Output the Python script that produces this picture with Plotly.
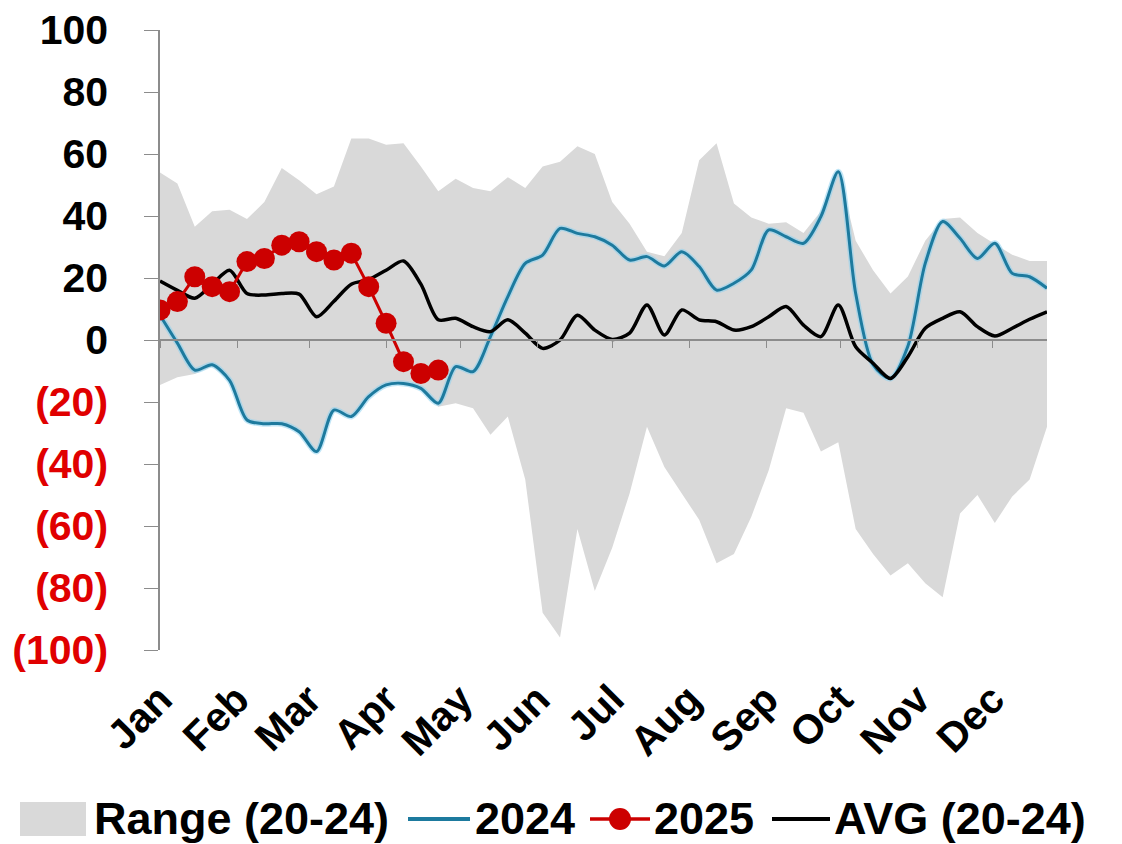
import pandas as pd
import plotly.graph_objects as go

# ---- data (weekly, 52 weeks) ----
weeks = pd.date_range("2024-01-01", periods=52, freq="7D")

range_high = [54, 50.5, 36.5, 41.5, 42, 39, 44.5, 55.5, 51.5, 47,
              49.5, 65, 65, 63, 63.5, 56, 48, 52, 49, 48,
              52.5, 49, 56, 57.5, 62.5, 60, 44.5, 37.5, 28.5, 27,
              34.5, 58, 63.5, 44, 39.5, 37.5, 38, 34.5, 41.5, 55,
              32, 22.5, 15, 20.5, 32, 39, 39.5, 34.5, 31, 27.5,
              25.5, 25.5]

range_low = [-14.5, -12, -11, -8.5, -13, -25.8, -27, -27, -29.6, -36,
             -22.6, -24.7, -18.3, -14.5, -14, -15.6, -21.5, -20.4, -22, -30.6,
             -24.7, -45, -88, -96, -61, -81, -67, -49.5, -28, -41,
             -49.5, -58, -72, -69, -57, -42, -22, -23.5, -36, -33,
             -61, -69, -76, -72, -78.5, -83, -56, -50, -59, -50.5,
             -45, -28]

y2024 = [8, -1, -9.7, -8, -13, -25.8, -27, -27, -29.6, -36,
         -22.6, -24.7, -18.3, -14.5, -14, -15.6, -20.4, -8.6, -10.2, 1.1,
         14, 24.7, 27.4, 36, 34.4, 33.3, 30.6, 25.8, 26.9, 23.9,
         28.5, 23.7, 16.1, 18.3, 22.6, 35.5, 33.3, 31.2, 39.8, 54.3,
         15, -8, -12.4, -2, 24.7, 38.2, 32.8, 26.3, 31.2, 21.5,
         20.4, 16.7]

y2025 = [9.7, 12.4, 20.4, 17.2, 15.6, 25.3, 26.3, 30.6, 31.7, 28.5,
         25.8, 28, 17.2, 5.4, -7, -10.8, -9.7]

avg = [19, 16, 13.5, 18, 22.5, 15, 14.5, 15, 14.8, 7.5,
       12.5, 18, 19.5, 22.5, 25.5, 18, 6.5, 7, 4.3, 2.7,
       6.5, 2.2, -2.7, 0, 8, 3.2, 0.2, 2.2, 11.3, 1.6,
       9.7, 6.5, 5.9, 3.2, 4.3, 7.5, 10.8, 4.8, 1.1, 11.3,
       -2.2, -7.5, -12.4, -5.4, 3.8, 7, 9.1, 4.3, 1.3, 3.8,
       6.7, 9.1]

y_ticks = [100, 80, 60, 40, 20, 0, -20, -40, -60, -80, -100]
y_ticktext = [str(v) if v >= 0 else "<span style='color:#e00000'>(%d)</span>" % (-v)
              for v in y_ticks]

month_starts = pd.date_range("2024-01-01", periods=12, freq="MS")
month_labels = ["Jan", "Feb", "Mar", "Apr", "May", "Jun",
                "Jul", "Aug", "Sep", "Oct", "Nov", "Dec"]

series_names = ["Range (20-24)", "2024", "2025", "AVG (20-24)"]

FONT = "Liberation Sans, Arial, sans-serif"
GREY = "#d9d9d9"
AXIS = "#8c8c8c"
BLUE = "#1d7a9e"
RED = "#cc0000"

# layout geometry (page body adds an 8px offset)
OFF = 8
WID, HEI = 1122, 844
L, T = 160 - OFF, 30 - OFF
R = WID - (1047 - OFF)
B = HEI - (650 - OFF)
PW, PH = WID - L - R, HEI - T - B


def px(x):
    """screen x (pixels) -> paper fraction"""
    return (x - OFF - L) / PW


def py(y):
    """screen y (pixels) -> paper fraction"""
    return (HEI - B - (y - OFF)) / PH


fig = go.Figure()
fig.add_trace(go.Scatter(x=weeks, y=range_low, mode="lines",
                         line=dict(width=0, color=GREY),
                         showlegend=False, hoverinfo="skip"))
fig.add_trace(go.Scatter(x=weeks, y=range_high, mode="lines", fill="tonexty",
                         fillcolor=GREY, line=dict(width=0, color=GREY),
                         name=series_names[0], showlegend=False))
fig.add_trace(go.Scatter(x=weeks, y=y2024, mode="lines",
                         line=dict(color="rgba(140,210,240,0.55)", width=6,
                                   shape="spline", smoothing=0.8),
                         showlegend=False, hoverinfo="skip"))
fig.add_trace(go.Scatter(x=weeks, y=y2024, mode="lines",
                         line=dict(color=BLUE, width=3, shape="spline", smoothing=0.8),
                         name=series_names[1], showlegend=False))
fig.add_trace(go.Scatter(x=weeks, y=avg, mode="lines",
                         line=dict(color="black", width=3.5, shape="spline", smoothing=0.8),
                         name=series_names[3], showlegend=False))
fig.add_trace(go.Scatter(x=weeks[:len(y2025)], y=y2025, mode="lines+markers",
                         line=dict(color=RED, width=3),
                         marker=dict(size=21, color=RED),
                         name=series_names[2], showlegend=False))

# ---- legend drawn at the bottom (swatches + text) ----
LY = 819
shapes = [
    dict(type="rect", xref="paper", yref="paper",
         x0=px(20), x1=px(86), y0=py(836), y1=py(802),
         fillcolor=GREY, line=dict(width=0)),
    dict(type="line", xref="paper", yref="paper",
         x0=px(408), x1=px(470), y0=py(LY), y1=py(LY),
         line=dict(color=BLUE, width=4)),
    dict(type="line", xref="paper", yref="paper",
         x0=px(590), x1=px(650), y0=py(LY), y1=py(LY),
         line=dict(color=RED, width=3.5)),
    dict(type="circle", xref="paper", yref="paper",
         x0=px(609), x1=px(631), y0=py(LY + 11), y1=py(LY - 11),
         fillcolor=RED, line=dict(width=0)),
    dict(type="line", xref="paper", yref="paper",
         x0=px(772), x1=px(830), y0=py(LY), y1=py(LY),
         line=dict(color="black", width=4)),
]
text_x = [92, 473, 652, 832]
annotations = [
    dict(xref="paper", yref="paper", x=px(tx), y=py(LY), text=name,
         xanchor="left", yanchor="middle", showarrow=False,
         font=dict(size=45, family=FONT, weight="bold", color="black"))
    for tx, name in zip(text_x, series_names)
]

fig.update_layout(
    width=WID, height=HEI,
    margin=dict(l=L, r=R, t=T, b=B, autoexpand=False),
    paper_bgcolor="white", plot_bgcolor="white",
    font=dict(family=FONT, color="black"),
    showlegend=False,
    shapes=shapes,
    annotations=annotations,
    xaxis=dict(type="date", range=[weeks[0], weeks[-1]],
               anchor="free", position=0.5, automargin=False,
               tickvals=month_starts, ticktext=month_labels,
               tickangle=-45, ticks="outside", ticklen=7, tickcolor=AXIS,
               showline=True, linecolor=AXIS, linewidth=1.5,
               showgrid=False, zeroline=False,
               ticklabelstandoff=311, ticklabeloverflow="allow",
               tickfont=dict(size=41, family=FONT, weight="bold", color="black")),
    yaxis=dict(range=[-100, 100], tickvals=y_ticks, ticktext=y_ticktext,
               automargin=False,
               ticks="outside", ticklen=14, tickcolor=AXIS,
               showline=True, linecolor=AXIS, linewidth=1.5,
               showgrid=False, zeroline=False,
               ticklabelstandoff=28, ticklabeloverflow="allow",
               tickfont=dict(size=41, family=FONT, weight="bold", color="black")),
)

fig.write_html("out.html")
